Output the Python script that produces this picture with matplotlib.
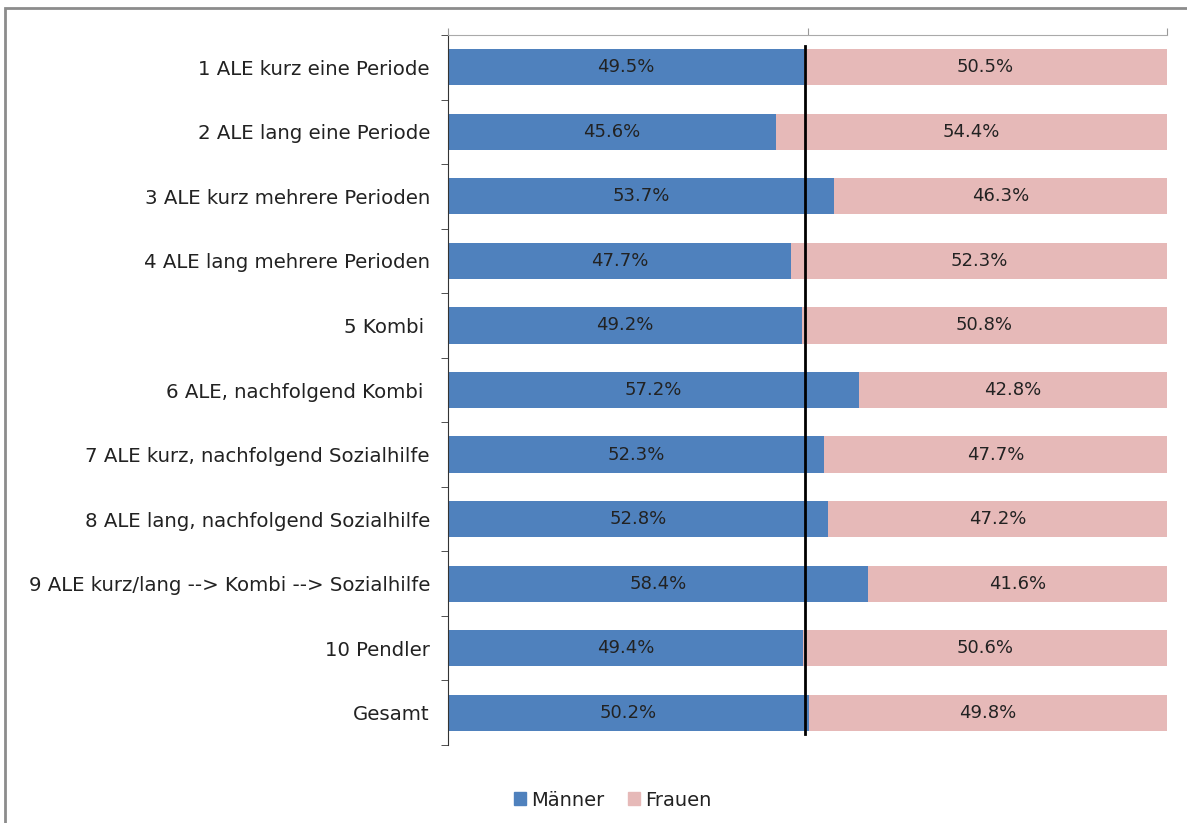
import matplotlib.pyplot as plt
from matplotlib.patches import Rectangle, Patch

# categories top to bottom
categories = [
    "1 ALE kurz eine Periode",
    "2 ALE lang eine Periode",
    "3 ALE kurz mehrere Perioden",
    "4 ALE lang mehrere Perioden",
    "5 Kombi ",
    "6 ALE, nachfolgend Kombi ",
    "7 ALE kurz, nachfolgend Sozialhilfe",
    "8 ALE lang, nachfolgend Sozialhilfe",
    "9 ALE kurz/lang --> Kombi --> Sozialhilfe",
    "10 Pendler",
    "Gesamt",
]
maenner = [49.5, 45.6, 53.7, 47.7, 49.2, 57.2, 52.3, 52.8, 58.4, 49.4, 50.2]
frauen = [50.5, 54.4, 46.3, 52.3, 50.8, 42.8, 47.7, 47.2, 41.6, 50.6, 49.8]

blue = "#4f81bd"
pink = "#e6b9b8"

fig = plt.figure(figsize=(11.87, 8.23), dpi=100)
ax = fig.add_axes([448 / 1187, 1 - 745 / 823, 719 / 1187, 710 / 823])

# outer frame of the chart
fig.patches.append(Rectangle((5 / 1187, -0.1), 1.2, 1 - 8 / 823 + 0.1,
                             transform=fig.transFigure, fill=False,
                             edgecolor="#8c8c8c", linewidth=2))

y = list(range(len(categories)))
ax.barh(y, maenner, height=0.56, color=blue, label="Männer")
ax.barh(y, frauen, left=maenner, height=0.56, color=pink, label="Frauen")

for i, (m, f) in enumerate(zip(maenner, frauen)):
    ax.text(m / 2, i, f"{m:.1f}%", ha="center", va="center", fontsize=13, color="#222222")
    ax.text(m + f / 2, i, f"{f:.1f}%", ha="center", va="center", fontsize=13, color="#222222")

ax.axvline(49.7, ymin=0.015, ymax=0.985, color="black", linewidth=2)

ax.set_xlim(0, 100)
ax.set_ylim(len(categories) - 0.5, -0.5)
ax.set_yticks(y)
ax.set_yticklabels(categories, fontsize=14.2, color="#222222")
ax.set_yticks([i - 0.5 for i in range(len(categories) + 1)], minor=True)
ax.tick_params(axis="y", which="major", length=0, pad=13)
ax.tick_params(axis="y", which="minor", length=5, color="#333333")

ax.xaxis.tick_top()
ax.set_xticks([0, 50, 100])
ax.set_xticklabels([])
ax.tick_params(axis="x", length=5, color="#999999")

ax.spines["right"].set_visible(False)
ax.spines["bottom"].set_visible(False)
ax.spines["top"].set_color("#aaaaaa")
ax.spines["left"].set_color("#333333")

handles = [Patch(color=blue, label="Männer"), Patch(color=pink, label="Frauen")]
fig.legend(handles=handles, loc="center", bbox_to_anchor=(613 / 1187, 1 - 800 / 823),
           ncol=2, frameon=False, fontsize=14, handlelength=0.6, handleheight=0.6,
           handletextpad=0.3, columnspacing=1.2, labelcolor="#222222")

fig.savefig("out.png", dpi=100)
